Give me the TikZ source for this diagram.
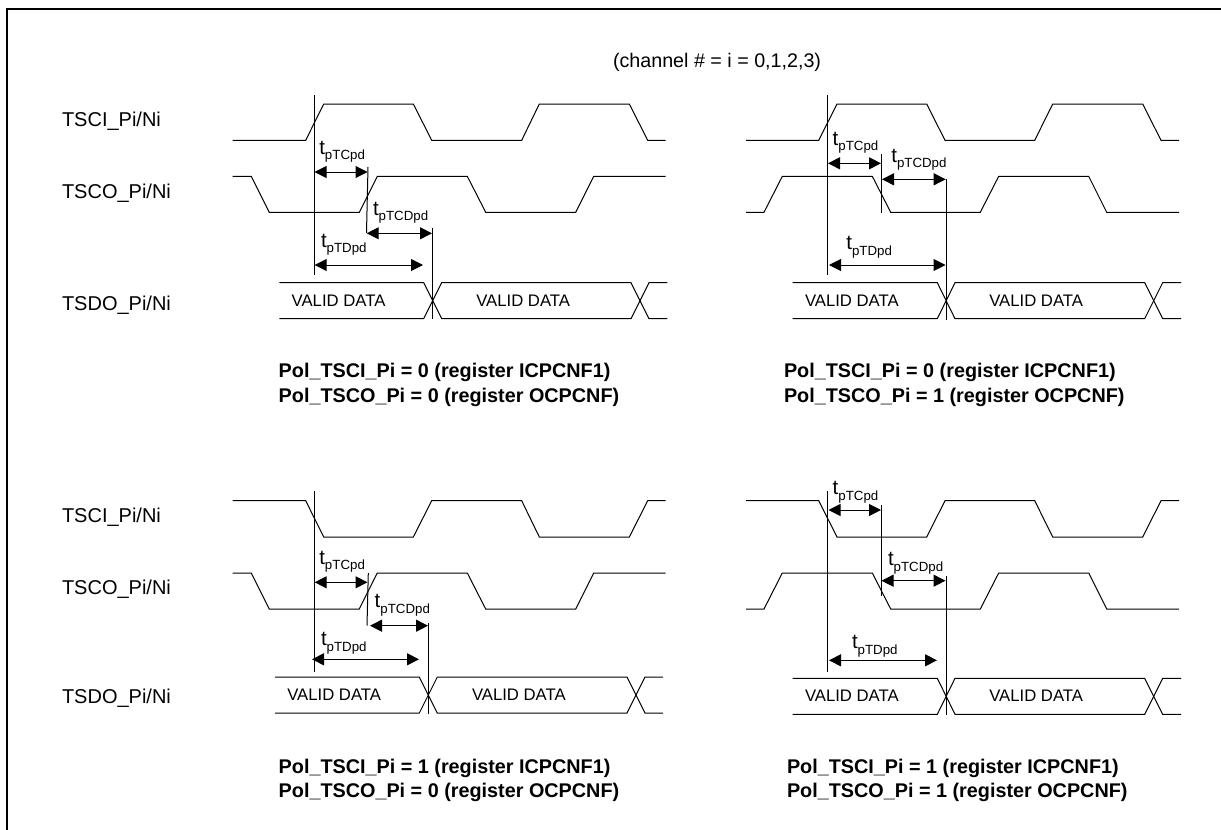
\documentclass[tikz,border=0pt]{standalone}
\usepackage{fontspec}
\setmainfont{Liberation Sans}
\usetikzlibrary{arrows.meta}
\newcommand{\tsym}[1]{{\fontsize{20.5}{20}\selectfont t}\raisebox{-5.3pt}{\fontsize{13.3}{14}\selectfont #1}}
\tikzset{
  x=1pt,y=-1pt,
  wave/.style={line width=1pt,line join=miter},
  markline/.style={line width=1pt},
  spanarrow/.style={line width=1pt,{Triangle[length=12pt,width=12pt]}-{Triangle[length=12pt,width=12pt]}},
  frameline/.style={line width=2pt},
  txt/.style={anchor=base west,inner sep=0pt,outer sep=0pt},
  sigtxt/.style={txt,font=\fontsize{20}{20}\selectfont},
  dattxt/.style={txt,font=\fontsize{16.7}{18}\selectfont},
  captxt/.style={txt,font=\fontsize{19.8}{20}\selectfont\bfseries},
  chantxt/.style={txt,font=\fontsize{19.7}{20}\selectfont},
  tlab/.style={txt},
}
\begin{document}
\begin{tikzpicture}
\useasboundingbox (0,0) rectangle (1221,830);
\draw[frameline] (7,830) -- (7,9) -- (1221,9);
\node[chantxt] (channel) at (613,67) {(channel \# = i = 0,1,2,3)};

% row labels
\node[sigtxt] (a1) at (62,126.7) {TSCI\_Pi/Ni};
\node[sigtxt] (a2) at (62,198.5) {TSCO\_Pi/Ni};
\node[sigtxt] (a3) at (62,310.5) {TSDO\_Pi/Ni};
\node[sigtxt] (b1) at (62,522.7) {TSCI\_Pi/Ni};
\node[sigtxt] (b2) at (62,594.7) {TSCO\_Pi/Ni};
\node[sigtxt] (b3) at (62,703.7) {TSDO\_Pi/Ni};

% ---------- panel 1
\draw[wave] (232.7,140.3) -- (305.7,140.3) -- (323.7,104) -- (413.3,104) -- (431.7,140.3) -- (521.7,140.3) -- (539.3,104) -- (629.3,104) -- (647.7,140.3) -- (665.7,140.3);
\draw[wave] (232.7,176.3) -- (251.3,176.3) -- (269.3,212.3) -- (359.3,212.3) -- (377.3,176.3) -- (467.3,176.3) -- (485.7,212.3) -- (575.7,212.3) -- (593.7,176.3) -- (665.7,176.3);
\draw[wave] (279.3,282.7) -- (423.7,282.7) -- (441.7,318.7) -- (631,318.7) -- (649,282.7) -- (667.3,282.7);
\draw[wave] (279.3,318.7) -- (423.7,318.7) -- (441.7,282.7) -- (631,282.7) -- (649,318.7) -- (667.3,318.7);
\draw[markline] (314,95) -- (314,275.3);
\draw[markline] (368,167) -- (366.5,233);
\draw[markline] (432.3,228) -- (432.3,319);
\draw[spanarrow] (314.5,172) -- (367.5,172);
\draw[spanarrow] (366.7,233.3) -- (432,233.3);
\draw[spanarrow] (314.7,265) -- (423,265);
\node[tlab] (p1a) at (319.3,154) {\tsym{pTCpd}};
\node[tlab] (p1b) at (373,215) {\tsym{pTCDpd}};
\node[tlab] (p1c) at (321,247.3) {\tsym{pTDpd}};
\node[dattxt] (p1d) at (291.7,306) {VALID DATA};
\node[dattxt] (p1e) at (476.3,306) {VALID DATA};
\node[captxt] (p1f) at (278.7,377.3) {Pol\_TSCI\_Pi = 0 (register ICPCNF1)};
\node[captxt] (p1g) at (278.7,402.3) {Pol\_TSCO\_Pi = 0 (register OCPCNF)};

% ---------- panel 2
\draw[wave] (746,140.3) -- (818.7,140.3) -- (837,104) -- (926.7,104) -- (945,140.3) -- (1034.7,140.3) -- (1052.7,104) -- (1142.7,104) -- (1161,140.3) -- (1179,140.3);
\draw[wave] (746,212.3) -- (764,212.3) -- (782.3,176.3) -- (872.3,176.3) -- (890.7,212.3) -- (980.3,212.3) -- (998.7,176.3) -- (1088.7,176.3) -- (1106.7,212.3) -- (1179,212.3);
\draw[wave] (792.7,282.7) -- (937.3,282.7) -- (955,318.7) -- (1144.7,318.7) -- (1162.7,282.7) -- (1181,282.7);
\draw[wave] (792.7,318.7) -- (937.3,318.7) -- (955,282.7) -- (1144.7,282.7) -- (1162.7,318.7) -- (1181,318.7);
\draw[markline] (827.3,95) -- (827.3,275.3);
\draw[markline] (881.7,154) -- (881.7,212.7);
\draw[markline] (946,179) -- (946,319.5);
\draw[spanarrow] (828,163.3) -- (881,163.3);
\draw[spanarrow] (882,179.3) -- (945.7,179.3);
\draw[spanarrow] (829,265) -- (945.5,265);
\node[tlab] (p2a) at (832.7,145.3) {\tsym{pTCpd}};
\node[tlab] (p2b) at (891.3,162) {\tsym{pTCDpd}};
\node[tlab] (p2c) at (846.3,249.7) {\tsym{pTDpd}};
\node[dattxt] (p2d) at (805,306) {VALID DATA};
\node[dattxt] (p2e) at (989.3,306) {VALID DATA};
\node[captxt] (p2f) at (784,377.3) {Pol\_TSCI\_Pi = 0 (register ICPCNF1)};
\node[captxt] (p2g) at (784,402.3) {Pol\_TSCO\_Pi = 1 (register OCPCNF)};

% ---------- panel 3
\draw[wave] (232.7,500.7) -- (305.7,500.7) -- (323.7,537) -- (413.3,537) -- (431.7,500.7) -- (521.7,500.7) -- (539.3,537) -- (629.3,537) -- (647.7,500.7) -- (665.7,500.7);
\draw[wave] (232.7,573) -- (251.3,573) -- (269.3,609) -- (359.3,609) -- (377.3,573) -- (467.3,573) -- (485.7,609) -- (575.7,609) -- (593.7,573) -- (665.7,573);
\draw[wave] (275,677) -- (419.3,677) -- (437.3,713) -- (627,713) -- (645,677) -- (663,677);
\draw[wave] (275,713) -- (419.3,713) -- (437.3,677) -- (627,677) -- (645,713) -- (663,713);
\draw[markline] (314,491.3) -- (314,672.3);
\draw[markline] (368.3,573) -- (367,625.7);
\draw[markline] (428.3,623.3) -- (428.3,713.5);
\draw[spanarrow] (314.7,582.3) -- (367.5,582.3);
\draw[spanarrow] (370,625.7) -- (428,625.7);
\draw[spanarrow] (312,659.3) -- (419,659.3);
\node[tlab] (p3a) at (319.3,564) {\tsym{pTCpd}};
\node[tlab] (p3b) at (374.7,607.7) {\tsym{pTCDpd}};
\node[tlab] (p3c) at (321,645.7) {\tsym{pTDpd}};
\node[dattxt] (p3d) at (287.3,700) {VALID DATA};
\node[dattxt] (p3e) at (472,700) {VALID DATA};
\node[captxt] (p3f) at (278.7,773.3) {Pol\_TSCI\_Pi = 1 (register ICPCNF1)};
\node[captxt] (p3g) at (278.7,797.3) {Pol\_TSCO\_Pi = 0 (register OCPCNF)};

% ---------- panel 4
\draw[wave] (746,500.7) -- (818.7,500.7) -- (837,537) -- (926.7,537) -- (945,500.7) -- (1034.7,500.7) -- (1052.7,537) -- (1142.7,537) -- (1161,500.7) -- (1179,500.7);
\draw[wave] (746,609) -- (764,609) -- (782.3,573) -- (872.3,573) -- (890.7,609) -- (980.3,609) -- (998.7,573) -- (1088.7,573) -- (1106.7,609) -- (1179,609);
\draw[wave] (792.7,678.3) -- (937.3,678.3) -- (955,714.3) -- (1144.7,714.3) -- (1162.7,678.3) -- (1181,678.3);
\draw[wave] (792.7,714.3) -- (937.3,714.3) -- (955,678.3) -- (1144.7,678.3) -- (1162.7,714.3) -- (1181,714.3);
\draw[markline] (827.3,491.3) -- (827.3,672.3);
\draw[markline] (881.7,505) -- (881.7,595.7);
\draw[markline] (946.3,575.7) -- (946.3,714.5);
\draw[spanarrow] (828.5,510) -- (881,510);
\draw[spanarrow] (881.5,580.7) -- (945.5,580.7);
\draw[spanarrow] (829,660.3) -- (937,660.3);
\node[tlab] (p4a) at (832.7,494.7) {\tsym{pTCpd}};
\node[tlab] (p4b) at (888,565.7) {\tsym{pTCDpd}};
\node[tlab] (p4c) at (852,648.7) {\tsym{pTDpd}};
\node[dattxt] (p4d) at (805,701) {VALID DATA};
\node[dattxt] (p4e) at (989.3,701) {VALID DATA};
\node[captxt] (p4f) at (787,773.3) {Pol\_TSCI\_Pi = 1 (register ICPCNF1)};
\node[captxt] (p4g) at (787,797.3) {Pol\_TSCO\_Pi = 1 (register OCPCNF)};
\end{tikzpicture}
\end{document}
